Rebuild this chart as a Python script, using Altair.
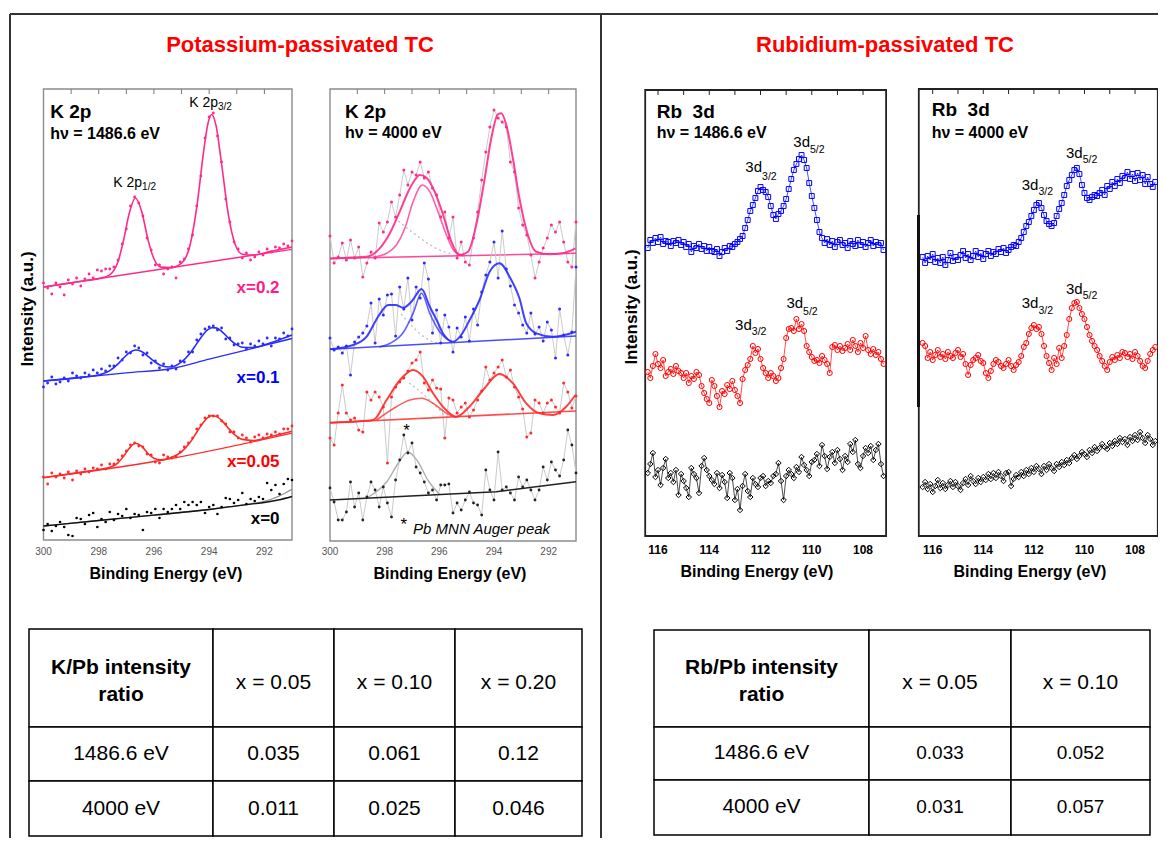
import altair as alt
import pandas as pd

FONT = "Liberation Sans"
W, H = 1150, 830
PAGE = 8


def cx(X):
    return X - PAGE


def cy(Y):
    return Y - PAGE


# ============================ DATA ============================
# ---- K 2p : binding-energy grid of measured points (eV)
k_energy = [300.0, 299.85, 299.7, 299.55, 299.4, 299.25, 299.1, 298.95, 298.8, 298.65,
            298.5, 298.35, 298.2, 298.05, 297.9, 297.75, 297.6, 297.45, 297.3, 297.15,
            297.0, 296.85, 296.7, 296.55, 296.4, 296.25, 296.1, 295.95, 295.8, 295.65,
            295.5, 295.35, 295.2, 295.05, 294.9, 294.75, 294.6, 294.45, 294.3, 294.15,
            294.0, 293.85, 293.7, 293.55, 293.4, 293.25, 293.1, 292.95, 292.8, 292.65,
            292.5, 292.35, 292.2, 292.05, 291.9, 291.75, 291.6, 291.45, 291.3, 291.15, 291.0]
k_ticks = [300, 298, 296, 294, 292]
k_minor = [299, 298, 297, 296, 295, 294, 293, 292]

# ---- hv = 1486.6 eV, measured intensity (a.u., offset traces)
k1486_x020 = [257, 252, 246, 257, 253, 245, 260, 256, 262, 254, 261, 266, 262, 270, 269, 271, 271, 273, 280, 296,
              311, 334, 343, 337, 324, 302, 290, 275, 275, 266, 271, 273, 262, 278, 281, 291, 305, 334, 364, 402,
              423, 427, 404, 378, 341, 318, 298, 291, 282, 287, 280, 283, 288, 285, 291, 288, 293, 292, 296, 294, 299]
k1486_x010 = [153, 157, 163, 156, 158, 162, 159, 167, 164, 162, 167, 165, 170, 167, 171, 169, 174, 174, 182, 180,
              188, 187, 194, 192, 185, 187, 177, 179, 172, 176, 170, 174, 171, 179, 178, 188, 188, 200, 206, 211,
              213, 214, 210, 212, 201, 202, 195, 196, 197, 191, 196, 194, 199, 196, 202, 194, 202, 201, 207, 204, 211]
k1486_x005 = [63, 56, 67, 63, 66, 62, 68, 60, 69, 66, 71, 68, 72, 71, 75, 71, 76, 76, 80, 84,
              89, 95, 97, 94, 93, 86, 85, 78, 77, 85, 83, 82, 83, 88, 93, 97, 102, 111, 115, 122,
              124, 124, 124, 119, 116, 108, 108, 102, 105, 102, 98, 103, 105, 102, 106, 105, 108, 106, 111, 111, 114]
k1486_x000 = [10, 16, 9, 14, 18, 13, 5, 4, 22, 21, 16, 25, 27, 13, 21, 18, 28, 20, 26, 24,
              31, 22, 26, 25, 10, 28, 27, 31, 22, 31, 28, 31, 35, 31, 38, 35, 38, 35, 38, 27,
              33, 35, 26, 33, 42, 41, 37, 40, 47, 36, 41, 39, 43, 41, 57, 50, 55, 46, 56, 61, 60]

# ---- hv = 1486.6 eV, fitted curves and backgrounds
k1486_fit_e = [300, 298.5, 298.0, 297.6, 297.3, 297.1, 296.9, 296.67, 296.45, 296.2, 296.0, 295.75, 295.4, 295.0,
               294.7, 294.45, 294.2, 294.05, 293.91, 293.75, 293.55, 293.3, 293.05, 292.8, 292.4, 291.8, 291.0]
k1486_fit_x020 = [253, 259.3, 261.4, 265.1, 278.4, 299.7, 326, 342, 329.1, 298.6, 281.2, 272.9, 272.4, 276.9,
                  294, 332.6, 388.7, 415.8, 425.5, 414.3, 376, 324.3, 295, 285.8, 284.9, 288.4, 293]
k1486_fit_x010 = [159, 163.1, 165, 169.4, 176.2, 182, 187.2, 190, 188.6, 183.4, 178.8, 174.6, 173, 178.1,
                  186.5, 196.4, 206.1, 210.3, 212.3, 212.1, 208.6, 201.9, 196, 192.8, 192.5, 197, 205]
k1486_fit_x005 = [62.3, 68.4, 70.5, 72.7, 77.2, 83.7, 91.5, 96.7, 93.8, 86, 81.8, 80.2, 82.3, 88.2,
                  97.2, 107.7, 118, 122.4, 124.3, 123.7, 119.6, 111.6, 104.6, 100.6, 99.5, 103.3, 108.8]
k1486_bg_x020_e = [300, 291]
k1486_bg_x020_i = [253, 290.7]
k1486_bg_x010_e = [300, 297, 295.36, 294, 293, 292, 291]
k1486_bg_x010_i = [159, 167.1, 171.5, 180.9, 187.7, 194.6, 201.5]
k1486_bg_x005_e = [300, 295.66, 291]
k1486_bg_x005_i = [62.3, 80, 106.8]
k1486_bg_x000_e = [300, 298, 296, 294, 293.24, 292.5, 292, 291.5, 291]
k1486_bg_x000_i = [14, 19.5, 24.9, 30.5, 33.3, 35.9, 37.5, 40, 43.5]
k1486_fit_x000_i = [14, 19.5, 24.9, 30.5, 33.3, 36.2, 38.6, 43.5, 50.7]

# ---- hv = 4000 eV, measured intensity
k4000_x020 = [305, 278, 284, 298, 281, 301, 283, 294, 264, 278, 289, 283, 318, 309, 319, 339, 324, 346, 371, 356,
              369, 366, 379, 363, 369, 353, 346, 324, 329, 303, 324, 283, 299, 279, 276, 303, 329, 361, 389, 414,
              431, 423, 419, 414, 379, 369, 333, 316, 306, 286, 263, 279, 293, 303, 316, 309, 319, 299, 279, 274, 319]
k4000_x010 = [203, 191, 194, 188, 195, 166, 199, 204, 208, 215, 238, 198, 242, 226, 246, 247, 205, 254, 232, 263,
              221, 254, 243, 278, 262, 208, 231, 198, 226, 214, 189, 213, 204, 224, 200, 232, 216, 249, 266, 279,
              299, 263, 310, 272, 255, 236, 228, 216, 208, 228, 207, 214, 200, 219, 211, 183, 232, 206, 186, 209, 274]
k4000_x005 = [103, 96, 128, 156, 128, 121, 123, 111, 109, 149, 141, 149, 144, 134, 78, 144, 154, 159, 163, 170,
              178, 181, 189, 158, 151, 161, 153, 152, 103, 143, 141, 128, 134, 138, 124, 131, 141, 150, 174, 161,
              168, 174, 181, 164, 171, 154, 144, 132, 104, 108, 141, 138, 128, 138, 141, 134, 128, 158, 149, 133, 145]
k4000_x000 = [53, 39, 21, 21, 29, 59, 34, 48, 21, 44, 59, 51, 34, 54, 38, 24, 61, 81, 106, 88,
              98, 74, 68, 59, 48, 51, 41, 56, 56, 57, 28, 38, 31, 41, 49, 38, 36, 26, 71, 51,
              41, 89, 51, 54, 48, 41, 64, 54, 61, 51, 41, 51, 74, 61, 79, 71, 65, 81, 111, 96, 68]

# ---- hv = 4000 eV, fitted envelopes / components / backgrounds
k4000_x020_env_e = [300.0, 299.88, 298.66, 298.18, 297.81, 297.45, 297.14, 296.9, 296.72, 296.47, 296.17, 295.86,
                    295.56, 295.26, 294.95, 294.65, 294.34, 294.1, 293.86, 293.73, 293.55, 293.31, 293.07, 292.76,
                    292.46, 291.97, 291.49, 291.02]
k4000_x020_env_i = [282.5, 282.7, 284.3, 292.7, 307.7, 329.3, 349.3, 361, 366, 363.3, 349.3, 326,
                    299.3, 286, 289.3, 316, 362.7, 402.7, 426.7, 427.7, 416, 382.7, 342.7, 306,
                    289.3, 286.7, 287.7, 292.7]
k4000_x020_cmp_e = [298.4, 297.93, 297.57, 297.26, 296.96, 296.62, 296.35, 296.05, 295.74, 295.44, 295.13]
k4000_x020_cmp_i = [284, 287.7, 296, 312.7, 339.3, 356, 349.3, 329.3, 306, 289.3, 285.3]
k4000_x020_tail_e = [297.5, 297.0, 296.5, 296.0, 295.5]
k4000_x020_tail_i = [320, 309, 299, 291, 287]
k4000_x020_bg_e = [300, 291]
k4000_x020_bg_i = [282.5, 287.7]

k4000_x010_env_e = [300.0, 299.15, 298.66, 298.24, 297.87, 297.6, 297.32, 297.0, 296.65, 296.35, 296.1, 295.87,
                    295.5, 295.2, 294.89, 294.53, 294.16, 293.8, 293.4, 293.07, 292.82, 292.45, 291.85, 291.0]
k4000_x010_env_i = [191.7, 196, 204.3, 224.3, 236, 236, 233.3, 240, 252, 234.3, 221, 207.7,
                    199.3, 206, 221, 241, 269.3, 277.7, 262.7, 242.7, 217.7, 207.7, 204.3, 209.3]
k4000_x010_cmp_e = [298.2, 297.8, 297.3, 296.96, 296.65, 296.35, 295.99, 295.56]
k4000_x010_cmp_i = [194, 197.7, 209.3, 227.7, 247.7, 227.7, 209.3, 199.3]
k4000_x010_tail_e = [297.4, 297.0, 296.5, 296.0]
k4000_x010_tail_i = [227, 215, 203, 197]
k4000_x010_bg_e = [300, 291]
k4000_x010_bg_i = [191.7, 205]

k4000_x005_env_e = [300.0, 298.8, 298.42, 297.93, 297.44, 296.96, 296.6, 296.23, 295.87, 295.38, 294.9, 294.4,
                    293.8, 293.31, 292.82, 292.34, 291.85, 291.36, 291.02]
k4000_x005_env_i = [118.3, 120, 121, 141, 161, 171, 164.3, 147.7, 134.3, 124.3, 134.3, 151,
                    167, 157.7, 137.7, 127.7, 126, 134.3, 146]
k4000_x005_cmp_e = [298.3, 297.57, 297.08, 296.65, 296.23, 295.74, 295.38]
k4000_x005_cmp_i = [121, 134.3, 141, 142.7, 137.7, 127.7, 123.7]
k4000_x005_tail_e = [297.1, 296.6, 296.1, 295.75]
k4000_x005_tail_i = [158, 147, 134, 124]
k4000_x005_bg_e = [300, 291]
k4000_x005_bg_i = [118.3, 130]

k4000_x000_bg_e = [300, 293.92, 291]
k4000_x000_bg_i = [41, 49.3, 59.3]
k4000_auger_e = [298.6, 297.9, 297.5, 297.15, 296.8, 296.4, 296.0]
k4000_auger_i = [44, 60, 78, 89, 80, 60, 47]

# ---- Rb 3d : binding-energy grid (eV)
rb_energy = [116.4, 116.3, 116.2, 116.1, 116.0, 115.9, 115.8, 115.7, 115.6, 115.5,
             115.4, 115.3, 115.2, 115.1, 115.0, 114.9, 114.8, 114.7, 114.6, 114.5,
             114.4, 114.3, 114.2, 114.1, 114.0, 113.9, 113.8, 113.7, 113.6, 113.5,
             113.4, 113.3, 113.2, 113.1, 113.0, 112.9, 112.8, 112.7, 112.6, 112.5,
             112.4, 112.3, 112.2, 112.1, 112.0, 111.9, 111.8, 111.7, 111.6, 111.5,
             111.4, 111.3, 111.2, 111.1, 111.0, 110.9, 110.8, 110.7, 110.6, 110.5,
             110.4, 110.3, 110.2, 110.1, 110.0, 109.9, 109.8, 109.7, 109.6, 109.5,
             109.4, 109.3, 109.2, 109.1, 109.0, 108.9, 108.8, 108.7, 108.6, 108.5,
             108.4, 108.3, 108.2, 108.1, 108.0, 107.9, 107.8, 107.7, 107.6, 107.5,
             107.4, 107.3, 107.2]
rb_ticks = [116, 114, 112, 110, 108]
rb_minor = [116, 115, 114, 113, 112, 111, 110, 109, 108]

rb1486_x010 = [288, 296, 293, 298, 294, 299, 292, 295, 294, 290,
               295, 293, 296, 291, 294, 289, 292, 284, 290, 288,
               292, 287, 290, 285, 289, 285, 284, 287, 280, 284,
               288, 285, 290, 289, 292, 294, 297, 300, 308, 316,
               325, 331, 338, 345, 349, 346, 344, 339, 330, 321,
               317, 322, 325, 330, 337, 347, 357, 366, 372, 377,
               381, 376, 368, 353, 340, 328, 316, 304, 298, 293,
               297, 291, 295, 289, 294, 296, 291, 293, 288, 295,
               292, 290, 296, 291, 294, 289, 293, 296, 290, 294,
               291, 293, 286]
rb1486_x005 = [164, 158, 170, 182, 172, 168, 176, 160, 164, 167,
               162, 170, 165, 163, 158, 163, 153, 160, 157, 164,
               161, 150, 143, 137, 133, 156, 150, 140, 129, 145,
               142, 151, 147, 155, 146, 140, 133, 157, 166, 171,
               177, 190, 183, 187, 177, 168, 163, 158, 163, 160,
               155, 158, 168, 177, 198, 207, 208, 205, 217, 207,
               212, 205, 190, 184, 179, 175, 176, 173, 180, 176,
               172, 163, 189, 191, 186, 190, 185, 188, 192, 186,
               196, 190, 184, 193, 188, 200, 186, 182, 187, 181,
               184, 177, 172]
rb1486_x000 = [63, 72, 83, 59, 66, 51, 68, 77, 58, 63,
               54, 66, 41, 62, 55, 48, 39, 68, 62, 58,
               43, 70, 78, 66, 60, 56, 52, 63, 48, 61,
               54, 38, 63, 58, 36, 47, 26, 50, 62, 45,
               39, 58, 52, 49, 58, 60, 50, 55, 53, 60,
               62, 73, 55, 36, 60, 66, 62, 58, 69, 64,
               79, 71, 66, 60, 74, 76, 82, 70, 91, 80,
               67, 79, 84, 73, 86, 77, 66, 80, 74, 92,
               84, 96, 72, 68, 80, 88, 83, 90, 76, 86,
               92, 72, 60]
rb4000_x010 = [279, 273, 280, 276, 282, 274, 278, 273, 279, 271,
               276, 283, 275, 279, 276, 281, 285, 278, 282, 276,
               280, 285, 279, 283, 277, 282, 285, 280, 284, 282,
               287, 284, 288, 283, 286, 289, 291, 290, 294, 298,
               304, 310, 314, 320, 326, 331, 333, 328, 321, 315,
               312, 310, 313, 320, 327, 333, 341, 350, 356, 361,
               366, 368, 362, 351, 343, 338, 336, 339, 341, 340,
               343, 346, 341, 350, 347, 354, 350, 357, 353, 360,
               358, 364, 357, 362, 355, 363, 356, 361, 352, 359,
               352, 349, 354]
rb4000_x005 = [193, 190, 178, 184, 176, 181, 186, 179, 182, 177,
               184, 180, 178, 183, 186, 179, 182, 172, 161, 171,
               176, 178, 181, 175, 173, 163, 158, 165, 172, 176,
               174, 170, 168, 172, 176, 170, 166, 171, 174, 180,
               189, 193, 202, 208, 211, 207, 209, 202, 190, 180,
               173, 166, 178, 172, 188, 178, 190, 201, 217, 228,
               233, 234, 228, 222, 217, 209, 201, 195, 190, 186,
               180, 175, 170, 166, 174, 179, 176, 181, 178, 184,
               183, 179, 182, 177, 184, 180, 175, 170, 168, 175,
               182, 186, 189]
rb4000_x000 = [49, 54, 47, 52, 44, 50, 56, 48, 53, 47,
               51, 55, 49, 54, 50, 46, 53, 57, 51, 60,
               55, 52, 58, 54, 59, 56, 62, 57, 63, 58,
               64, 60, 55, 63, 64, 50, 57, 61, 59, 64,
               60, 66, 62, 68, 64, 70, 67, 62, 70, 66,
               72, 68, 65, 72, 69, 74, 71, 76, 73, 78,
               81, 77, 80, 84, 82, 79, 86, 83, 89, 85,
               88, 92, 89, 87, 93, 90, 95, 92, 98, 94,
               97, 91, 99, 95, 101, 96, 104, 98, 93, 101,
               97, 91, 95]

# ---- tables
k_table_head = ["K/Pb intensity", "ratio"]
k_table_cols = ["x = 0.05", "x = 0.10", "x = 0.20"]
k_table_rows = ["1486.6 eV", "4000 eV"]
k_ratio_1486 = ["0.035", "0.061", "0.12"]
k_ratio_4000 = ["0.011", "0.025", "0.046"]
rb_table_head = ["Rb/Pb intensity", "ratio"]
rb_table_cols = ["x = 0.05", "x = 0.10"]
rb_table_rows = ["1486.6 eV", "4000 eV"]
rb_ratio_1486 = ["0.033", "0.052"]
rb_ratio_4000 = ["0.031", "0.057"]

# ============================ LAYOUT HELPERS ============================


def panel(xd, X_left, X_right, yd, Y_bottom, Y_top):
    return {"xd": xd, "xr": [cx(X_right), cx(X_left)], "yd": yd,
            "yr": [cy(Y_bottom), cy(Y_top)], "Ytop": Y_top, "Ybottom": Y_bottom}


K1 = panel([291, 300], 43.5, 292, [0, 451], 540, 89)
K2 = panel([291, 300], 330, 576, [0, 452], 541, 89)
R1 = panel([107.1, 116.5], 645.2, 886.1, [0, 446], 536, 90)
R2 = panel([107.1, 116.55], 918.8, 1157.8, [0, 447], 536, 89)


def sx(p):
    return alt.Scale(domain=p["xd"], range=p["xr"], nice=False, zero=False)


def sy(p):
    return alt.Scale(domain=p["yd"], range=p["yr"], nice=False, zero=False)


def enc(p):
    return {"x": alt.X("E:Q", scale=sx(p), axis=None),
            "y": alt.Y("I:Q", scale=sy(p), axis=None)}


def tab(e, i):
    return pd.DataFrame({"E": e, "I": i})


def frame_rect(p, stroke, sw):
    d = pd.DataFrame({"E": [p["xd"][0]], "E2": [p["xd"][1]], "I": [p["yd"][0]], "I2": [p["yd"][1]]})
    return alt.Chart(d).mark_rect(fill="transparent", stroke=stroke, strokeWidth=sw).encode(
        x=alt.X("E:Q", scale=sx(p), axis=None), x2="E2:Q",
        y=alt.Y("I:Q", scale=sy(p), axis=None), y2="I2:Q")


def top_ticks(p, values, color):
    d = pd.DataFrame({"E": values})
    return alt.Chart(d).mark_rule(color=color, strokeWidth=1).encode(
        x=alt.X("E:Q", scale=sx(p), axis=None),
        y=alt.value(cy(p["Ytop"])), y2=alt.value(cy(p["Ytop"] + 5)))


def tick_labels(p, values, Y, size, color, weight):
    d = pd.DataFrame({"E": values, "t": [str(v) for v in values]})
    return alt.Chart(d).mark_text(font=FONT, fontSize=size, fontWeight=weight, color=color,
                                  align="center", baseline="middle").encode(
        x=alt.X("E:Q", scale=sx(p), axis=None), y=alt.value(cy(Y)), text="t:N")


def line(p, e, i, color, width=1.5, interp="monotone", dash=None, opacity=1.0):
    props = {"color": color, "strokeWidth": width, "interpolate": interp, "opacity": opacity}
    if dash:
        props["strokeDash"] = dash
    return alt.Chart(tab(e, i)).mark_line(**props).encode(**enc(p))


def dots(p, e, i, color, size):
    return alt.Chart(tab(e, i)).mark_circle(color=color, size=size, opacity=1).encode(**enc(p))


def markers(p, e, i, color, shape, size):
    return alt.Chart(tab(e, i)).mark_point(shape=shape, filled=False, color=color, size=size,
                                           strokeWidth=1, opacity=1).encode(**enc(p))


def label(p, e, i, text, size, weight="normal", color="#000000", align="left", style="normal"):
    d = pd.DataFrame({"E": [e], "I": [i], "t": [text]})
    return alt.Chart(d).mark_text(font=FONT, fontSize=size, fontWeight=weight, fontStyle=style,
                                  color=color, align=align, baseline="middle").encode(text="t:N", **enc(p))


def fixed_text(text, X, Y, size, color, weight="bold", angle=0):
    return alt.Chart(pd.DataFrame({"t": [text]})).mark_text(
        font=FONT, fontSize=size, fontWeight=weight, color=color, align="center", baseline="middle",
        angle=angle
    ).encode(x=alt.value(cx(X)), y=alt.value(cy(Y)), text="t:N")


def rule(X1, Y1, X2, Y2, color="#333333", width=2.0):
    e = {"x": alt.value(cx(X1)), "y": alt.value(cy(Y1))}
    if X2 != X1:
        e["x2"] = alt.value(cx(X2))
    if Y2 != Y1:
        e["y2"] = alt.value(cy(Y2))
    return alt.Chart(pd.DataFrame({"a": [0]})).mark_rule(color=color, strokeWidth=width).encode(**e)


def table(X_edges, Y_edges, entries):
    x0, y0 = X_edges[0], Y_edges[0]
    xs_ = alt.Scale(domain=[0, X_edges[-1] - x0], range=[cx(X_edges[0]), cx(X_edges[-1])], nice=False, zero=False)
    ys_ = alt.Scale(domain=[0, Y_edges[-1] - y0], range=[cy(Y_edges[0]), cy(Y_edges[-1])], nice=False, zero=False)
    cells = []
    for r in range(len(Y_edges) - 1):
        for c in range(len(X_edges) - 1):
            cells.append({"a": X_edges[c] - x0, "b": X_edges[c + 1] - x0,
                          "c": Y_edges[r] - y0, "d": Y_edges[r + 1] - y0})
    layers = [alt.Chart(pd.DataFrame(cells)).mark_rect(fill="white", stroke="#000000", strokeWidth=1.5).encode(
        x=alt.X("a:Q", scale=xs_, axis=None), x2="b:Q",
        y=alt.Y("c:Q", scale=ys_, axis=None), y2="d:Q")]
    groups = {}
    for col, yoff, t, size, weight in entries:
        groups.setdefault((size, weight), []).append(
            {"xc": (X_edges[col] + X_edges[col + 1]) / 2 - x0, "yc": yoff, "t": t})
    for (size, weight), rows in groups.items():
        layers.append(alt.Chart(pd.DataFrame(rows)).mark_text(
            font=FONT, fontSize=size, fontWeight=weight, color="#000000", align="center", baseline="middle"
        ).encode(x=alt.X("xc:Q", scale=xs_, axis=None), y=alt.Y("yc:Q", scale=ys_, axis=None), text="t:N"))
    return alt.layer(*layers)


PINK, BLUE, RED = "#ff2a8a", "#2b2bff", "#ff2b2b"
PINK_T, BLUE_T, RED_T = "#ff1a8c", "#0000ff", "#ff0000"
GREY_LINE = "#c4c4c4"


def k_axes(p, title_X):
    return [frame_rect(p, "#8c8c8c", 1.4), top_ticks(p, k_minor, "#777777"),
            tick_labels(p, k_ticks, 552, 10, "#555555", "normal"),
            fixed_text("Binding Energy (eV)", title_X, 574, 16, "#000000")]


def rb_axes(p, title_X):
    return [frame_rect(p, "#222222", 1.8), top_ticks(p, rb_minor, "#222222"),
            tick_labels(p, rb_ticks, 550, 12, "#000000", "bold"),
            fixed_text("Binding Energy (eV)", title_X, 572, 16, "#000000")]


# ============================ PANEL 1 : K 2p, 1486.6 eV ============================
k1 = k_axes(K1, 166)
for bg_e, bg_i, fit_i, pts, col in [
        (k1486_bg_x020_e, k1486_bg_x020_i, k1486_fit_x020, k1486_x020, PINK),
        (k1486_bg_x010_e, k1486_bg_x010_i, k1486_fit_x010, k1486_x010, BLUE),
        (k1486_bg_x005_e, k1486_bg_x005_i, k1486_fit_x005, k1486_x005, RED)]:
    k1.append(line(K1, bg_e, bg_i, col, 1.3))
    k1.append(line(K1, k1486_fit_e, fit_i, col, 1.6))
    k1.append(dots(K1, k_energy, pts, col, 8))
k1.append(line(K1, k1486_bg_x000_e, k1486_fit_x000_i, "#8a8a8a", 1.3))
k1.append(line(K1, k1486_bg_x000_e, k1486_bg_x000_i, "#111111", 1.3))
k1.append(dots(K1, k_energy, k1486_x000, "#000000", 7))
k1 += [
    label(K1, 299.76, 428, "K 2p", 19, "bold"),
    label(K1, 299.76, 406, "h\u03bd = 1486.6 eV", 16, "bold"),
    label(K1, 293.68, 437, "K 2p", 14, align="right"),
    label(K1, 293.68, 433, "3/2", 10),
    label(K1, 296.43, 357, "K 2p", 14, align="right"),
    label(K1, 296.43, 353, "1/2", 10),
    label(K1, 291.45, 252, "x=0.2", 17, "bold", PINK_T, "right"),
    label(K1, 291.45, 162, "x=0.1", 17, "bold", BLUE_T, "right"),
    label(K1, 291.45, 78, "x=0.05", 17, "bold", RED_T, "right"),
    label(K1, 291.45, 21, "x=0", 17, "bold", "#000000", "right"),
]

# ============================ PANEL 2 : K 2p, 4000 eV ============================
k2 = k_axes(K2, 450)
for pts, col, env_e, env_i, cmp_e, cmp_i, tl_e, tl_i, bg_e, bg_i in [
        (k4000_x020, PINK, k4000_x020_env_e, k4000_x020_env_i, k4000_x020_cmp_e, k4000_x020_cmp_i,
         k4000_x020_tail_e, k4000_x020_tail_i, k4000_x020_bg_e, k4000_x020_bg_i),
        (k4000_x010, BLUE, k4000_x010_env_e, k4000_x010_env_i, k4000_x010_cmp_e, k4000_x010_cmp_i,
         k4000_x010_tail_e, k4000_x010_tail_i, k4000_x010_bg_e, k4000_x010_bg_i),
        (k4000_x005, RED, k4000_x005_env_e, k4000_x005_env_i, k4000_x005_cmp_e, k4000_x005_cmp_i,
         k4000_x005_tail_e, k4000_x005_tail_i, k4000_x005_bg_e, k4000_x005_bg_i)]:
    k2.append(line(K2, k_energy, pts, GREY_LINE, 0.9, "linear"))
    k2.append(dots(K2, k_energy, pts, col, 9))
    k2.append(line(K2, tl_e, tl_i, "#bbbbbb", 1.2, dash=[2, 3]))
    k2.append(line(K2, bg_e, bg_i, col, 1.6, "linear", opacity=0.85))
    k2.append(line(K2, cmp_e, cmp_i, col, 1.6, opacity=0.75))
    k2.append(line(K2, env_e, env_i, col, 2.0, opacity=0.9))
k2.append(line(K2, k_energy, k4000_x000, GREY_LINE, 0.9, "linear"))
k2.append(line(K2, k4000_auger_e, k4000_auger_i, "#b0b0b0", 1.4))
k2.append(dots(K2, k_energy, k4000_x000, "#222222", 8))
k2.append(line(K2, k4000_x000_bg_e, k4000_x000_bg_i, "#222222", 1.5, "linear"))
k2 += [
    label(K2, 299.45, 429, "K 2p", 19, "bold"),
    label(K2, 299.45, 408, "h\u03bd = 4000 eV", 16, "bold"),
    label(K2, 297.2, 110, "*", 17, align="center"),
    label(K2, 297.3, 16, "*", 17, align="center"),
    label(K2, 296.96, 12, "Pb MNN Auger peak", 15, style="italic"),
]

# ============================ PANEL 3 : Rb 3d, 1486.6 eV ============================
r1 = rb_axes(R1, 757)
for pts, col, shape, size in [(rb1486_x000, "#000000", "diamond", 30),
                              (rb1486_x005, "#ff0000", "circle", 26),
                              (rb1486_x010, "#0000ff", "square", 24)]:
    r1.append(line(R1, rb_energy, pts, col, 0.7, "linear"))
    r1.append(markers(R1, rb_energy, pts, col, shape, size))
r1 += [
    label(R1, 116.05, 424, "Rb\u00a0 3d", 19, "bold"),
    label(R1, 116.05, 403, "h\u03bd = 1486.6 eV", 16, "bold"),
    label(R1, 111.94, 369, "3d", 15, align="right"),
    label(R1, 111.94, 359, "3/2", 10.5),
    label(R1, 110.07, 394, "3d", 15, align="right"),
    label(R1, 110.07, 386, "5/2", 10.5),
    label(R1, 112.34, 211, "3d", 15, align="right"),
    label(R1, 112.34, 204, "3/2", 10.5),
    label(R1, 110.34, 233, "3d", 15, align="right"),
    label(R1, 110.34, 224, "5/2", 10.5),
]

# ============================ PANEL 4 : Rb 3d, 4000 eV ============================
r2 = rb_axes(R2, 1030)
for pts, col, shape, size in [(rb4000_x000, "#000000", "diamond", 30),
                              (rb4000_x005, "#ff0000", "circle", 26),
                              (rb4000_x010, "#0000ff", "square", 24)]:
    r2.append(line(R2, rb_energy, pts, col, 0.7, "linear"))
    r2.append(markers(R2, rb_energy, pts, col, shape, size))
r2 += [
    label(R2, 116.04, 426, "Rb\u00a0 3d", 19, "bold"),
    label(R2, 116.04, 403, "h\u03bd = 4000 eV", 16, "bold"),
    label(R2, 111.82, 351, "3d", 15, align="right"),
    label(R2, 111.82, 344, "3/2", 10.5),
    label(R2, 110.07, 383, "3d", 15, align="right"),
    label(R2, 110.07, 376, "5/2", 10.5),
    label(R2, 111.82, 233, "3d", 15, align="right"),
    label(R2, 111.82, 225, "3/2", 10.5),
    label(R2, 110.07, 247, "3d", 15, align="right"),
    label(R2, 110.07, 240, "5/2", 10.5),
]

# ============================ TABLES ============================
k_entries = [(0, 39, k_table_head[0], 21, "bold"), (0, 66, k_table_head[1], 21, "bold")]
k_entries += [(c + 1, 54, k_table_cols[c], 21, "normal") for c in range(3)]
k_entries += [(0, 125, k_table_rows[0], 21, "normal"), (0, 180, k_table_rows[1], 21, "normal")]
k_entries += [(c + 1, 125, k_ratio_1486[c], 21, "normal") for c in range(3)]
k_entries += [(c + 1, 180, k_ratio_4000[c], 21, "normal") for c in range(3)]
k_table = table([29, 213, 334, 455, 582], [629, 727, 781, 836], k_entries)

rb_entries = [(0, 38, rb_table_head[0], 21, "bold"), (0, 65, rb_table_head[1], 21, "bold")]
rb_entries += [(c + 1, 53, rb_table_cols[c], 21, "normal") for c in range(2)]
rb_entries += [(0, 123, rb_table_rows[0], 21, "normal"), (0, 177, rb_table_rows[1], 21, "normal")]
rb_entries += [(c + 1, 123, rb_ratio_1486[c], 19, "normal") for c in range(2)]
rb_entries += [(c + 1, 177, rb_ratio_4000[c], 19, "normal") for c in range(2)]
rb_table = table([654, 869, 1011, 1150], [630, 727, 780, 835], rb_entries)

# ============================ ASSEMBLY ============================
outer = [
    rule(10, 14, 1158, 14), rule(10, 14, 10, 838), rule(601, 14, 601, 838),
    fixed_text("Potassium-passivated TC", 300, 45, 22, "#ff0000"),
    fixed_text("Rubidium-passivated TC", 885, 45, 22, "#ff0000"),
    fixed_text("Intensity (a.u.)", 28, 309, 17, "#000000", angle=270),
    fixed_text("Intensity (a.u.)", 632, 307, 17, "#000000", angle=270),
    k_table, rb_table,
    alt.layer(*k1),
    alt.layer(*k2),
    alt.layer(*r1),
    alt.layer(*r2),
    rule(918.5, 215, 918.5, 407, "#111111", 3),
]

chart = alt.layer(*outer).resolve_scale(x="independent", y="independent").properties(
    width=W, height=H, padding=0, background="white",
    autosize=alt.AutoSizeParams(type="none"),
).configure_view(strokeWidth=0)

chart.save("out.html", embed_options={"renderer": "svg", "actions": False})
